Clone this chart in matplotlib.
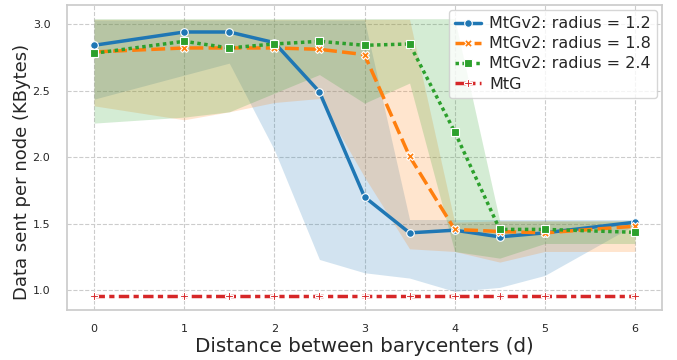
import matplotlib
matplotlib.use("Agg")
import matplotlib.pyplot as plt
import seaborn as sns

sns.set_theme(style="whitegrid")
plt.rcParams["font.family"] = ["DejaVu Sans"]

# Distance between barycenters (d)
distance = [0, 1, 1.5, 2, 2.5, 3, 3.5, 4, 4.5, 5, 6]

# MtGv2, radius = 1.2
r12_mean = [2.84, 2.94, 2.94, 2.86, 2.49, 1.70, 1.43, 1.45, 1.40, 1.43, 1.51]
r12_low = [2.435, 2.616, 2.706, 2.054, 1.23, 1.13, 1.09, 0.99, 1.02, 1.11, 1.49]
r12_high = [3.03, 3.03, 3.03, 3.03, 3.03, 3.03, 1.53, 1.53, 1.53, 1.53, 1.53]

# MtGv2, radius = 1.8
r18_mean = [2.79, 2.82, 2.82, 2.82, 2.81, 2.77, 2.005, 1.456, 1.44, 1.43, 1.48]
r18_low = [2.385, 2.28, 2.34, 2.41, 2.44, 1.85, 1.31, 1.29, 1.21, 1.29, 1.29]
r18_high = [3.035, 3.035, 3.035, 3.035, 3.035, 3.035, 3.035, 1.51, 1.52, 1.52, 1.52]

# MtGv2, radius = 2.4
r24_mean = [2.78, 2.87, 2.82, 2.85, 2.87, 2.84, 2.85, 2.19, 1.456, 1.456, 1.434]
r24_low = [2.255, 2.30, 2.34, 2.48, 2.62, 2.405, 2.556, 1.29, 1.24, 1.35, 1.35]
r24_high = [3.04, 3.04, 3.04, 3.04, 3.04, 3.04, 3.04, 3.04, 1.52, 1.52, 1.52]

# MtG baseline
mtg_mean = [0.955] * len(distance)

series = [
    ("MtGv2: radius = 1.2", r12_mean, r12_low, r12_high),
    ("MtGv2: radius = 1.8", r18_mean, r18_low, r18_high),
    ("MtGv2: radius = 2.4", r24_mean, r24_low, r24_high),
    ("MtG", mtg_mean, None, None),
]

palette = sns.color_palette("tab10")
colors = [palette[0], palette[1], palette[2], palette[3]]
markers = ["o", "X", "s", "P"]
dashes = [(None, None), (4, 1.5), (1, 1), (3, 1.25, 1.5, 1.25)]

fig = plt.figure(figsize=(6.77, 3.6), dpi=100)
ax = fig.add_axes([67 / 677, 1 - 310 / 360, (662 - 67) / 677, (310 - 5) / 360])

for (label, mean, low, high), c, m, d in zip(series, colors, markers, dashes):
    if low is not None:
        ax.fill_between(distance, low, high, color=c, alpha=0.2, linewidth=0)
    line, = ax.plot(distance, mean, color=c, marker=m, markersize=5.5,
                    markeredgecolor="white", markeredgewidth=0.8,
                    linewidth=2.5, label=label)
    if d[0] is not None:
        line.set_dashes(d)

ax.set_xlim(-0.3, 6.3)
ax.set_ylim(0.85, 3.143)
ax.set_xticks([0, 1, 2, 3, 4, 5, 6])
ax.set_yticks([1.0, 1.5, 2.0, 2.5, 3.0])
ax.tick_params(labelsize=8, colors=".15")
ax.tick_params(axis="x", pad=4)
ax.tick_params(axis="y", pad=6)
ax.grid(True, linestyle="--", color=".8", linewidth=0.8)
for s in ax.spines.values():
    s.set_color(".8")

ax.set_xlabel("Distance between barycenters (d)", fontsize=14.3, color=".15",
              labelpad=2)
ax.set_ylabel("Data sent per node (KBytes)", fontsize=13, color=".15")
ax.yaxis.set_label_coords(-0.06, 0.452)

ax.legend(loc="upper right", fontsize=11.5, frameon=True, handlelength=1.6,
          labelspacing=0.32, borderaxespad=0.3, handletextpad=0.5,
          borderpad=0.4)

fig.savefig("out.png", dpi=100)
